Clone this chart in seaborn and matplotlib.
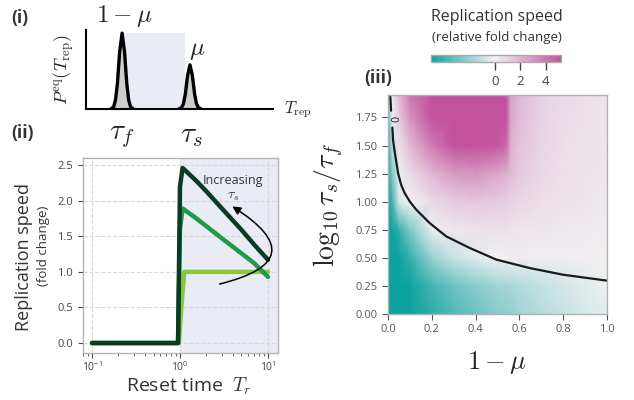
import numpy as np
import pandas as pd
import matplotlib
matplotlib.use("Agg")
import matplotlib.pyplot as plt
import seaborn as sns
from matplotlib.colors import LinearSegmentedColormap

# ---- panel (i): equilibrium distribution of T_rep ----
peak_f_x = [1.33, 1.48, 1.58, 1.68, 1.80, 1.93, 2.06, 2.18, 2.28, 2.38, 2.53]
peak_f_y = [0, 0.03, 0.12, 0.33, 0.74, 0.98, 0.74, 0.33, 0.12, 0.03, 0]
peak_s_x = [4.96, 5.11, 5.21, 5.31, 5.43, 5.56, 5.69, 5.81, 5.91, 6.01, 6.16]
peak_s_y = [0, 0.017, 0.068, 0.19, 0.43, 0.57, 0.43, 0.19, 0.068, 0.017, 0]
window = (1.97, 5.29)

# ---- panel (ii): replication speed vs reset time ----
tr_low = [0.1, 0.97, 1.05, 1.12, 10]
speed_low = [0, 0, 0.6, 1.0, 1.0]
tr_mid = [0.1, 0.95, 1.0, 1.07, 1.5, 2, 3, 5, 7, 10]
speed_mid = [0, 0, 1.6, 1.89, 1.76, 1.64, 1.47, 1.26, 1.12, 0.93]
tr_high = [0.1, 0.95, 1.0, 1.07, 1.5, 2, 3, 5, 7, 10]
speed_high = [0, 0, 2.2, 2.46, 2.29, 2.13, 1.89, 1.59, 1.38, 1.17]

# ---- panel (iii): heatmap over (1 - mu, log10 tau_s/tau_f) ----
grid_x = [0, 0.02, 0.05, 0.1, 0.2, 0.3, 0.4, 0.5, 0.54, 0.56, 0.6, 0.7, 0.8, 0.9, 1.0]
grid_y = [0, 0.25, 0.5, 0.75, 1.0, 1.25, 1.5, 1.75, 1.95]
speed_grid = [
    [-5, -5, -5, -5, -4.3, -3.5, -2.9, -2.3, -2.2, -2.1, -1.8, -1.3, -0.9, -0.55, -0.3],
    [-5, -5, -5, -5, -3.8, -2.9, -2.3, -1.8, -1.7, -1.6, -1.4, -1.0, -0.65, -0.35, -0.05],
    [-5, -5, -5, -4.2, -2.0, -0.9, -0.35, 0.0, 0.05, 0.08, 0.1, 0.12, 0.12, 0.12, 0.1],
    [-5, -5, -4.2, -2.5, -0.2, 0.3, 0.45, 0.5, 0.5, 0.45, 0.4, 0.3, 0.25, 0.2, 0.2],
    [-5, -3.8, -0.6, 0.0, 0.7, 1.2, 1.4, 1.2, 1.1, 1.0, 0.85, 0.6, 0.45, 0.35, 0.25],
    [-4.8, -2.5, -0.1, 0.7, 1.9, 2.8, 3.0, 2.4, 2.1, 1.8, 1.3, 0.8, 0.55, 0.4, 0.3],
    [-4.5, -1.0, 0.5, 1.8, 3.8, 5.2, 5.2, 5.0, 4.5, 2.2, 1.5, 0.9, 0.6, 0.45, 0.35],
    [-3.5, -0.2, 1.2, 3.0, 5.2, 5.2, 5.2, 5.2, 5.2, 2.5, 1.7, 1.0, 0.65, 0.5, 0.4],
    [-1.0, 0.3, 1.8, 4.0, 5.2, 5.2, 5.2, 5.2, 5.2, 2.6, 1.8, 1.05, 0.7, 0.55, 0.45],
]
contour_x = [0.010, 0.014, np.nan, 0.020, 0.023, 0.030, 0.046, 0.060, 0.076, 0.100,
             0.129, 0.190, 0.266, 0.373, 0.495, 0.647, 0.799, 1.0]
contour_y = [1.95, 1.81, np.nan, 1.66, 1.55, 1.45, 1.255, 1.15, 1.077, 1.0,
             0.929, 0.81, 0.691, 0.588, 0.484, 0.409, 0.350, 0.297]
cbar_ticks = [0, 2, 4]

lavender = "#e9ecf5"
greens = ["#8cc63f", "#1f9a48", "#0b3b22"]

sns.set_style("ticks")
plt.rcParams["font.family"] = ["Open Sans", "DejaVu Sans"]
plt.rcParams["mathtext.fontset"] = "cm"

fig = plt.figure(figsize=(6.34, 4.0), dpi=100)


def box(l, t, r, b):
    return [l / 634, 1 - b / 400, (r - l) / 634, (b - t) / 400]


def put(x, y, s, **kw):
    fig.text(x / 634, 1 - y / 400, s, ha="center", va="center", **kw)


# (i)
ax1 = fig.add_axes(box(86, 30, 273, 109))
ax1.axvspan(window[0], window[1], ymax=0.98 / 1.02, color=lavender, lw=0, zorder=0)
for px, py in [(peak_f_x, peak_f_y), (peak_s_x, peak_s_y)]:
    ax1.fill_between(px, py, color="#cdcdcd", lw=0, zorder=1)
    sns.lineplot(x=px, y=py, ax=ax1, color="black", lw=2.4, sort=False, zorder=2)
ax1.set_xlim(0, 10)
ax1.set_ylim(0, 1.02)
ax1.set_xticks([])
ax1.set_yticks([])
for s in ["top", "right"]:
    ax1.spines[s].set_visible(False)
for s in ["left", "bottom"]:
    ax1.spines[s].set_linewidth(1.5)
    ax1.spines[s].set_color("black")

put(125, 16, r"$1-\mu$", fontsize=18)
put(197, 49, r"$\mu$", fontsize=18)
put(64, 70, r"$P^{\rm eq}(T_{\rm rep})$", fontsize=13, rotation=90)
put(298, 110, r"$T_{\rm rep}$", fontsize=12)
put(122, 135, r"$\tau_f$", fontsize=21)
put(192, 135, r"$\tau_s$", fontsize=21)

# (ii)
ax2 = fig.add_axes(box(83, 158, 278, 353))
df = pd.concat([
    pd.DataFrame({"Tr": tr_low, "speed": speed_low, "tau": "low"}),
    pd.DataFrame({"Tr": tr_mid, "speed": speed_mid, "tau": "mid"}),
    pd.DataFrame({"Tr": tr_high, "speed": speed_high, "tau": "high"}),
])
ax2.axvspan(1.0, 13, color=lavender, lw=0, zorder=0)
sns.lineplot(data=df, x="Tr", y="speed", hue="tau", hue_order=["low", "mid", "high"],
             palette=greens, lw=3.2, legend=False, ax=ax2, zorder=3)
ax2.set_xscale("log")
ax2.set_xlim(0.079, 13)
ax2.set_ylim(-0.14, 2.6)
ax2.set_yticks([0, 0.5, 1.0, 1.5, 2.0, 2.5])
ax2.set_yticklabels(["0.0", "0.5", "1.0", "1.5", "2.0", "2.5"])
ax2.grid(True, which="major", ls="--", color="#d8d8d8", lw=0.8)
ax2.set_axisbelow(True)
ax2.set_xlabel("")
ax2.set_ylabel("")
ax2.tick_params(labelsize=8, colors="#444444", length=3.5, width=0.8)
ax2.tick_params(axis="x", labelsize=7.5, pad=2)
ax2.tick_params(which="minor", length=2, width=0.6, colors="#444444")
for s in ax2.spines.values():
    s.set_color("#b5b5b5")
    s.set_linewidth(1)

ax2.annotate("", xy=(3.7, 1.94), xytext=(2.63, 0.82),
             arrowprops=dict(arrowstyle="-|>", connectionstyle="arc3,rad=1.2",
                             color="black", lw=1.1, mutation_scale=12))
ax2.text(4.0, 2.28, "Increasing", fontsize=9, ha="center", va="center", color="#333333")
ax2.text(4.0, 2.08, r"$\tau_s$", fontsize=10, ha="center", va="center", color="#333333")

put(24, 257, "Replication speed", fontsize=13, rotation=90, color="#333333")
put(44, 246, "(fold change)", fontsize=9.5, rotation=90, color="#333333")
put(189, 386, r"Reset time  $T_r$", fontsize=14, color="#333333")

# (iii)
cmap = LinearSegmentedColormap.from_list(
    "tealmag", [(0, "#0ea29f"), (0.49, "#f1f1f2"), (1, "#c2529d")])
ax3 = fig.add_axes(box(388, 95, 607, 314))
mesh = ax3.pcolormesh(grid_x, grid_y, np.array(speed_grid), shading="gouraud",
                      cmap=cmap, vmin=-5, vmax=5.2)
ax3.plot(contour_x, contour_y, color="#1a1a1a", lw=1.6)
ax3.text(0.016, 1.735, "0", rotation=-90, fontsize=7.5, ha="center", va="center",
         color="#1a1a1a")
ax3.set_xlim(0, 1)
ax3.set_ylim(0, 1.95)
ax3.set_xticks([0, 0.2, 0.4, 0.6, 0.8, 1.0])
ax3.set_xticklabels(["0.0", "0.2", "0.4", "0.6", "0.8", "1.0"])
ax3.set_yticks([0, 0.25, 0.5, 0.75, 1.0, 1.25, 1.5, 1.75])
ax3.set_yticklabels(["0.00", "0.25", "0.50", "0.75", "1.00", "1.25", "1.50", "1.75"])
ax3.tick_params(labelsize=8, colors="#555555", length=4, width=0.8)
for s in ax3.spines.values():
    s.set_color("#b0b0b0")
    s.set_linewidth(1)

put(329, 205, r"$\log_{10}\tau_s/\tau_f$", fontsize=20, rotation=90)
put(497, 362, r"$1-\mu$", fontsize=19)

cax = fig.add_axes(box(431, 55, 561, 62))
cb = fig.colorbar(mesh, cax=cax, orientation="horizontal", ticks=cbar_ticks)
cb.outline.set_edgecolor("#aaaaaa")
cb.outline.set_linewidth(1)
cax.tick_params(labelsize=9.5, colors="#444444", length=6, width=1)

put(497, 17, "Replication speed", fontsize=11.5, color="#333333")
put(497, 38, "(relative fold change)", fontsize=9.5, color="#333333")

put(20, 18, "(i)", fontsize=12.5, fontweight="bold", color="#333333")
put(22, 133, "(ii)", fontsize=12.5, fontweight="bold", color="#333333")
put(378, 78, "(iii)", fontsize=12.5, fontweight="bold", color="#333333")

fig.savefig("out.png", dpi=100)
